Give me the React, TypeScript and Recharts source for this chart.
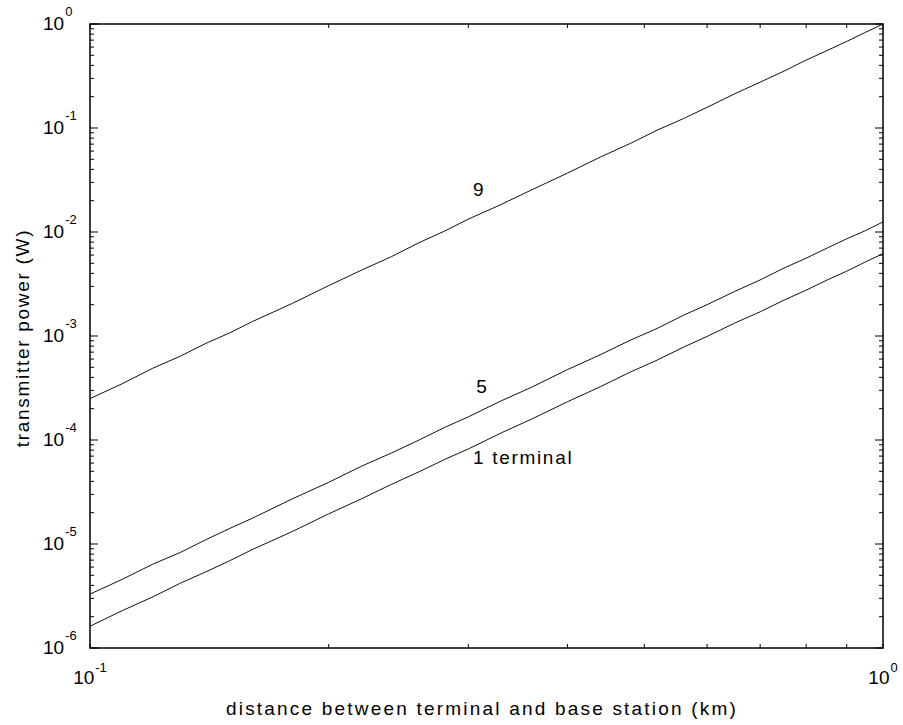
import { LineChart, Line, XAxis, YAxis, ReferenceArea, ReferenceDot } from 'recharts';

// distance (km)
const DISTANCE = [
  0.1, 0.11, 0.12, 0.13, 0.14, 0.15, 0.16, 0.18, 0.2, 0.22, 0.24, 0.26, 0.28, 0.3, 0.33,
  0.36, 0.4, 0.44, 0.48, 0.52, 0.56, 0.6, 0.65, 0.7, 0.75, 0.8, 0.85, 0.9, 0.95, 1.0,
];

// transmitter power (W), one list per number of terminals
const POWER_9 = [
  2.5e-4, 3.5e-4, 4.9e-4, 6.4e-4, 8.5e-4, 1.07e-3, 1.37e-3, 2.06e-3, 3.05e-3, 4.3e-3,
  5.8e-3, 7.9e-3, 1.02e-2, 1.33e-2, 1.84e-2, 2.53e-2, 3.68e-2, 5.25e-2, 7.1e-2, 9.6e-2,
  0.123, 0.158, 0.213, 0.276, 0.352, 0.45, 0.555, 0.68, 0.83, 1.0,
];
const POWER_5 = [
  3.3e-6, 4.6e-6, 6.4e-6, 8.3e-6, 1.1e-5, 1.41e-5, 1.76e-5, 2.72e-5, 3.92e-5, 5.6e-5,
  7.5e-5, 1.0e-4, 1.32e-4, 1.67e-4, 2.38e-4, 3.2e-4, 4.75e-4, 6.6e-4, 9.1e-4, 1.19e-3,
  1.58e-3, 2.0e-3, 2.68e-3, 3.46e-3, 4.5e-3, 5.6e-3, 7.0e-3, 8.6e-3, 1.03e-2, 1.25e-2,
];
const POWER_1 = [
  1.62e-6, 2.3e-6, 3.1e-6, 4.2e-6, 5.4e-6, 6.9e-6, 8.8e-6, 1.32e-5, 1.95e-5, 2.72e-5,
  3.75e-5, 4.95e-5, 6.5e-5, 8.2e-5, 1.17e-4, 1.58e-4, 2.33e-4, 3.25e-4, 4.5e-4, 5.9e-4,
  7.8e-4, 9.9e-4, 1.33e-3, 1.71e-3, 2.21e-3, 2.76e-3, 3.45e-3, 4.2e-3, 5.15e-3, 6.2e-3,
];

const X_TICKS = [0.1, 0.2, 0.3, 0.4, 0.5, 0.6, 0.7, 0.8, 0.9, 1];
const Y_DECADES = [-6, -5, -4, -3, -2, -1, 0];
const Y_TICKS = Y_DECADES.flatMap((d) =>
  d === 0 ? [1] : [1, 2, 3, 4, 5, 6, 7, 8, 9].map((m) => Number((m * 10 ** d).toPrecision(3)))
);

const data = DISTANCE.map((d, i) => ({ d, p9: POWER_9[i], p5: POWER_5[i], p1: POWER_1[i] }));

const W = 903;
const H = 725;
const PLOT_LEFT = 90;
const PLOT_RIGHT = 883;
const PLOT_TOP = 24;
const PLOT_BOTTOM = 648;
const FONT = '"Liberation Sans", Arial, sans-serif';
const INK = '#000';

const isDecade = (v: number) => Math.abs(Math.log10(v) - Math.round(Math.log10(v))) < 1e-6;

function YTick(props: any) {
  const { y, payload } = props;
  const v = payload.value as number;
  const major = isDecade(v);
  const len = major ? 8 : 4;
  return (
    <g>
      <line x1={PLOT_LEFT} x2={PLOT_LEFT + len} y1={y} y2={y} stroke={INK} strokeWidth={1} />
      <line x1={PLOT_RIGHT - len} x2={PLOT_RIGHT} y1={y} y2={y} stroke={INK} strokeWidth={1} />
      {major && (
        <text x={43} y={y + 6} fontFamily={FONT} fontSize={19} fill={INK}>
          10
          <tspan dx={1} dy={-14} fontSize={13}>
            {String(Math.round(Math.log10(v)))}
          </tspan>
        </text>
      )}
    </g>
  );
}

function XTick(props: any) {
  const { x, payload } = props;
  const v = payload.value as number;
  const major = isDecade(v);
  return (
    <g>
      <line x1={x} x2={x} y1={PLOT_BOTTOM} y2={PLOT_BOTTOM - 4} stroke={INK} strokeWidth={1} />
      <line x1={x} x2={x} y1={PLOT_TOP} y2={PLOT_TOP + 4} stroke={INK} strokeWidth={1} />
      {major && (
        <text x={x} y={PLOT_BOTTOM + 36} textAnchor="middle" fontFamily={FONT} fontSize={19} fill={INK}>
          10
          <tspan dx={1} dy={-12} fontSize={13}>
            {String(Math.round(Math.log10(v)))}
          </tspan>
        </text>
      )}
    </g>
  );
}

const curveLabel = (text: string) => (props: any) => {
  const vb = props.viewBox || {};
  return (
    <text x={vb.x} y={vb.y} fontFamily={FONT} fontSize={19} letterSpacing={1.7} fill={INK}>
      {text}
    </text>
  );
};

export default function App() {
  return (
    <div style={{ position: 'absolute', left: 0, top: 0, width: W, height: H, background: '#fff' }}>
      <LineChart
        width={W}
        height={H}
        data={data}
        margin={{ top: PLOT_TOP, right: W - PLOT_RIGHT, left: 0, bottom: 0 }}
      >
        <XAxis
          dataKey="d"
          type="number"
          scale="log"
          domain={[0.1, 1]}
          ticks={X_TICKS}
          interval={0}
          axisLine={false}
          tickLine={false}
          height={H - PLOT_BOTTOM}
          tick={(p: any) => <XTick {...p} />}
          allowDataOverflow
        />
        <YAxis
          type="number"
          scale="log"
          domain={[1e-6, 1]}
          ticks={Y_TICKS}
          interval={0}
          axisLine={false}
          tickLine={false}
          width={PLOT_LEFT}
          tick={(p: any) => <YTick {...p} />}
          allowDataOverflow
        />
        <ReferenceArea
          x1={0.1}
          x2={1}
          y1={1e-6}
          y2={1}
          fill="none"
          fillOpacity={0}
          stroke={INK}
          strokeWidth={1.5}
          strokeOpacity={1}
        />
        <Line dataKey="p9" type="linear" stroke="#111" strokeWidth={1} dot={false} isAnimationActive={false} />
        <Line dataKey="p5" type="linear" stroke="#111" strokeWidth={1} dot={false} isAnimationActive={false} />
        <Line dataKey="p1" type="linear" stroke="#111" strokeWidth={1} dot={false} isAnimationActive={false} />
        <ReferenceDot x={0.304} y={0.022} r={0} stroke="none" fill="none" label={curveLabel('9')} />
        <ReferenceDot x={0.307} y={2.83e-4} r={0} stroke="none" fill="none" label={curveLabel('5')} />
        <ReferenceDot x={0.304} y={5.88e-5} r={0} stroke="none" fill="none" label={curveLabel('1 terminal')} />
        <text x={482} y={715} textAnchor="middle" fontFamily={FONT} fontSize={19} letterSpacing={2.2} fill={INK}>
          distance between terminal and base station (km)
        </text>
        <text
          x={29}
          y={338}
          textAnchor="middle"
          transform="rotate(-90 29 338)"
          fontFamily={FONT}
          fontSize={19}
          letterSpacing={1.7}
          fill={INK}
        >
          transmitter power (W)
        </text>
      </LineChart>
    </div>
  );
}
